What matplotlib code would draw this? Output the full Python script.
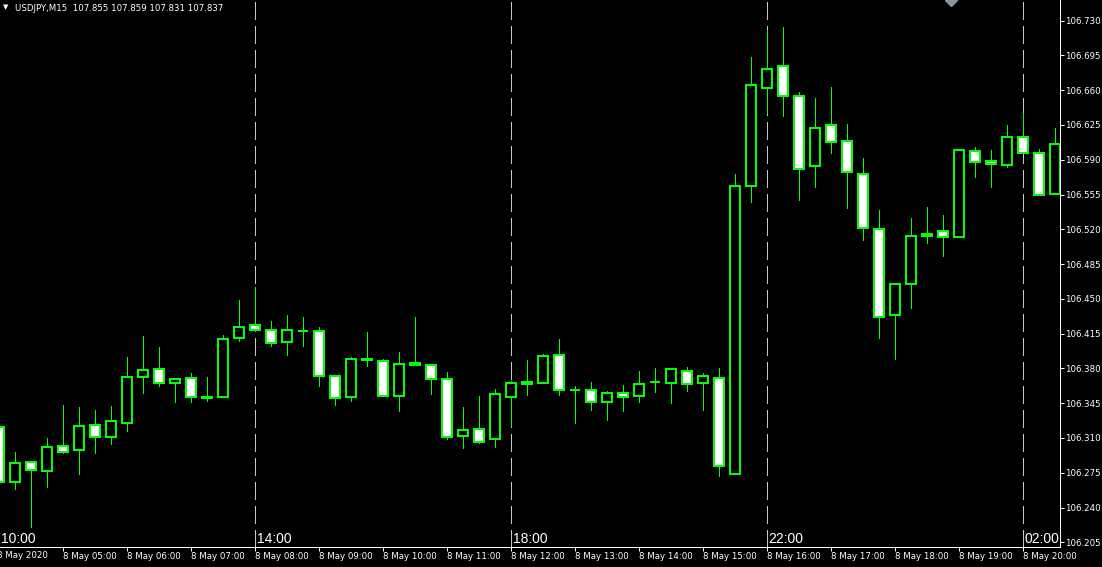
import matplotlib
matplotlib.use("Agg")
import matplotlib.pyplot as plt
from matplotlib.patches import Rectangle

# USDJPY M15, 8 May 2020 04:00 .. 20:30 (one candle per 15 min)
opens = [106.321, 106.266, 106.286, 106.277, 106.302, 106.298, 106.323, 106.311, 106.325, 106.371,
         106.379, 106.365, 106.370, 106.351, 106.351, 106.411, 106.424, 106.419, 106.407, 106.418,
         106.418, 106.372, 106.351, 106.390, 106.387, 106.352, 106.385, 106.383, 106.369, 106.312,
         106.319, 106.309, 106.351, 106.366, 106.365, 106.394, 106.358, 106.358, 106.346, 106.355,
         106.352, 106.366, 106.365, 106.377, 106.365, 106.370, 106.274, 106.564, 106.662, 106.684,
         106.654, 106.584, 106.625, 106.609, 106.576, 106.520, 106.434, 106.465, 106.515, 106.518,
         106.512, 106.599, 106.589, 106.585, 106.613, 106.597, 106.556]
highs = [106.321, 106.296, 106.287, 106.310, 106.343, 106.341, 106.338, 106.342, 106.392, 106.413,
         106.402, 106.370, 106.375, 106.371, 106.414, 106.449, 106.462, 106.428, 106.434, 106.432,
         106.422, 106.373, 106.392, 106.417, 106.389, 106.397, 106.432, 106.384, 106.376, 106.341,
         106.352, 106.359, 106.367, 106.388, 106.395, 106.410, 106.362, 106.366, 106.357, 106.363,
         106.377, 106.380, 106.380, 106.381, 106.375, 106.380, 106.576, 106.693, 106.721, 106.724,
         106.658, 106.652, 106.663, 106.626, 106.592, 106.539, 106.466, 106.531, 106.542, 106.534,
         106.600, 106.603, 106.600, 106.625, 106.637, 106.601, 106.622]
lows = [106.266, 106.259, 106.220, 106.261, 106.295, 106.274, 106.295, 106.304, 106.317, 106.355,
        106.362, 106.346, 106.346, 106.347, 106.351, 106.408, 106.418, 106.403, 106.394, 106.403,
        106.362, 106.343, 106.347, 106.382, 106.352, 106.337, 106.383, 106.354, 106.309, 106.300,
        106.305, 106.301, 106.322, 106.353, 106.365, 106.353, 106.325, 106.338, 106.328, 106.337,
        106.346, 106.356, 106.345, 106.357, 106.338, 106.272, 106.274, 106.548, 106.637, 106.634,
        106.550, 106.563, 106.597, 106.541, 106.509, 106.411, 106.389, 106.441, 106.506, 106.493,
        106.512, 106.573, 106.563, 106.583, 106.597, 106.555, 106.556]
closes = [106.266, 106.285, 106.278, 106.301, 106.296, 106.322, 106.311, 106.327, 106.371, 106.378,
          106.365, 106.369, 106.351, 106.350, 106.410, 106.422, 106.419, 106.406, 106.419, 106.418,
          106.372, 106.350, 106.390, 106.388, 106.352, 106.384, 106.383, 106.369, 106.311, 106.318,
          106.306, 106.354, 106.365, 106.364, 106.393, 106.358, 106.358, 106.346, 106.355, 106.351,
          106.364, 106.366, 106.379, 106.364, 106.372, 106.282, 106.564, 106.665, 106.681, 106.654,
          106.581, 106.622, 106.608, 106.578, 106.521, 106.432, 106.465, 106.513, 106.513, 106.512,
          106.600, 106.588, 106.586, 106.613, 106.597, 106.555, 106.606]

date_pos = [0, 4, 8, 12, 16, 20, 24, 28, 32, 36, 40, 44, 48, 52, 56, 60, 64]
date_labels = ["8 May 2020", "8 May 05:00", "8 May 06:00", "8 May 07:00", "8 May 08:00",
               "8 May 09:00", "8 May 10:00", "8 May 11:00", "8 May 12:00", "8 May 13:00",
               "8 May 14:00", "8 May 15:00", "8 May 16:00", "8 May 17:00", "8 May 18:00",
               "8 May 19:00", "8 May 20:00"]
hour_pos = [0, 16, 32, 48, 64]
hour_labels = ["10:00", "14:00", "18:00", "22:00", "02:00"]
price_ticks = [106.205, 106.240, 106.275, 106.310, 106.345, 106.380, 106.415, 106.450,
               106.485, 106.520, 106.555, 106.590, 106.625, 106.660, 106.695, 106.730]

green = "#00ff00"
px = 0.72  # one pixel in points at dpi 100

fig = plt.figure(figsize=(11.02, 5.67), dpi=100, facecolor="black")
ax = fig.add_axes([0, 20.3 / 567, 1059.5 / 1102, 546.7 / 567])
ax.set_facecolor("black")

# separators (the first one sits just off the left edge)
for p in hour_pos[1:]:
    ax.axvline(p, color="#c8c8c8", lw=px, dashes=(18, 6), zorder=1, antialiased=False)

body_w = 0.62
for i in range(len(opens)):
    o, h, l, c = opens[i], highs[i], lows[i], closes[i]
    ax.plot([i, i], [l, h], color=green, lw=px, zorder=2, antialiased=False, solid_capstyle="butt")
    face = "black" if c >= o else "white"
    ax.add_patch(Rectangle((i - body_w / 2, min(o, c)), body_w, abs(c - o),
                           facecolor=face, edgecolor=green, lw=1.5 * px, zorder=3,
                           antialiased=False))

ax.set_xlim(0.044, 66.26)
ax.set_ylim(106.2006, 106.7508)

for s in ["top", "left"]:
    ax.spines[s].set_visible(False)
for s in ["right", "bottom"]:
    ax.spines[s].set_color("white")
    ax.spines[s].set_linewidth(px)

ax.yaxis.tick_right()
ax.set_yticks(price_ticks)
ax.set_yticklabels([f"{v:.3f}" for v in price_ticks])
ax.tick_params(axis="y", colors="white", length=4 * px, width=px, pad=1.4, labelsize=6.2)

ax.set_xticks(date_pos[1:])
ax.set_xticklabels(date_labels[1:])
ax.tick_params(axis="x", colors="white", length=4 * px, width=px, pad=1, labelsize=6.2)
for lbl in ax.get_xticklabels():
    lbl.set_ha("left")
ax.text(date_pos[0] - 0.12, -0.0075, date_labels[0], transform=ax.get_xaxis_transform(),
        color="white", fontsize=6.2, ha="left", va="top", clip_on=False)

for p, t in zip(hour_pos, hour_labels):
    ax.text(p + 0.08, 0.007, t, transform=ax.get_xaxis_transform(), color="white",
            fontsize=10, family="Liberation Sans", ha="left", va="baseline")

# header
fig.text(2.5 / 1102, 1 - 9 / 567, "\u25bc", color="white", fontsize=5, ha="left", va="baseline")
fig.text(15 / 1102, 1 - 11 / 567, "USDJPY,M15  107.855 107.859 107.831 107.837",
         color="white", fontsize=6.2, ha="left", va="baseline")
ax.plot([951 / 1059.5], [1.0], transform=ax.transAxes, marker="D", ms=6.5,
        color="#8a96a3", clip_on=True, zorder=4)

fig.savefig("out.png", dpi=100, facecolor="black")
